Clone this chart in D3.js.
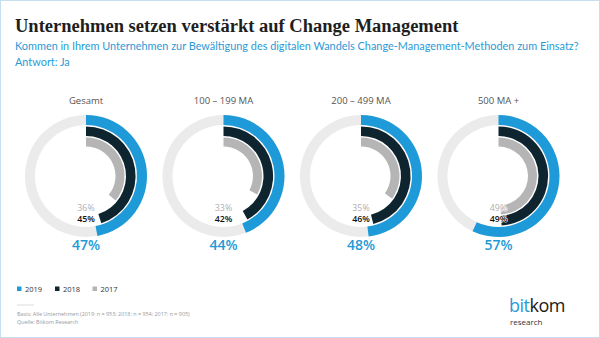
<!DOCTYPE html>
<html>
<head>
<meta charset="utf-8">
<script src="https://cdn.jsdelivr.net/npm/d3@7"></script>
<style>
  html, body { margin: 0; padding: 0; background: #fff; }
  svg { display: block; }
</style>
</head>
<body>
<svg id="chart"></svg>
<script>
// Werte aus der Grafik (Antwort: Ja, in %)
const categories = ["Gesamt", "100 – 199 MA", "200 – 499 MA", "500 MA +"];
const years = ["2019", "2018", "2017"];
const values2019 = [47, 44, 48, 57];
const values2018 = [45, 42, 46, 49];
const values2017 = [36, 33, 35, 49];

const width = 600;
const height = 338;

const blue = "#1f9ad8";
const dark = "#0e2530";
const grey = "#b5b5b5";
const track = "#ebebeb";

const svg = d3.select("#chart")
    .attr("width", width)
    .attr("height", height);

// Rahmen
svg.append("rect")
    .attr("x", 0.5).attr("y", 0.5)
    .attr("width", width - 1).attr("height", height - 1)
    .attr("fill", "#fff")
    .attr("stroke", "#c6dff0");

// Titel
svg.append("text")
    .attr("x", 15).attr("y", 32)
    .attr("font-family", "'Liberation Serif', serif")
    .attr("font-size", 18.5)
    .attr("font-weight", "bold")
    .attr("fill", "#1e1e1e")
    .text("Unternehmen setzen verstärkt auf Change Management");

const sub = svg.append("text")
    .attr("font-family", "Lato, sans-serif")
    .attr("font-size", 10.9)
    .attr("fill", "#2a9ad6");
sub.append("tspan").attr("x", 15).attr("y", 50)
    .text("Kommen in Ihrem Unternehmen zur Bewältigung des digitalen Wandels Change-Management-Methoden zum Einsatz?");
sub.append("tspan").attr("x", 15).attr("y", 66)
    .text("Antwort: Ja");

// Skalen
const x = d3.scaleBand()
    .domain(categories)
    .range([17.25, 567.25]);

const angle = d3.scaleLinear()
    .domain([0, 100])
    .range([0, 2 * Math.PI]);

const cy = 176;

const rings = [
    {year: "2019", values: values2019, inner: 51, outer: 61, color: blue},
    {year: "2018", values: values2018, inner: 40, outer: 49.6, color: dark},
    {year: "2017", values: values2017, inner: 29.5, outer: 38.5, color: grey}
];

const arc = d3.arc();

const groups = svg.selectAll("g.donut")
    .data(categories)
    .enter().append("g")
    .attr("class", "donut")
    .attr("transform", d => `translate(${x(d) + x.bandwidth() / 2},${cy})`);

groups.append("text")
    .attr("y", -72)
    .attr("text-anchor", "middle")
    .attr("font-family", "'Open Sans', sans-serif")
    .attr("font-size", 9.5)
    .attr("fill", "#555")
    .text(d => d);

// Hintergrundring
groups.append("path")
    .attr("d", arc({innerRadius: 51, outerRadius: 61, startAngle: 0, endAngle: 2 * Math.PI}))
    .attr("fill", track);

rings.forEach(r => {
    groups.append("path")
        .attr("d", (d, i) => arc({
            innerRadius: r.inner,
            outerRadius: r.outer,
            startAngle: 0,
            endAngle: angle(r.values[i])
        }))
        .attr("fill", r.color);
});

groups.append("text")
    .attr("y", 34.5)
    .attr("text-anchor", "middle")
    .attr("font-family", "'Open Sans', sans-serif")
    .attr("font-size", 8.8)
    .attr("fill", "#b0b0b0")
    .attr("stroke", "#fff")
    .attr("stroke-width", 1.2)
    .attr("paint-order", "stroke")
    .text((d, i) => values2017[i] + "%");

groups.append("text")
    .attr("y", 46)
    .attr("text-anchor", "middle")
    .attr("font-family", "'Open Sans', sans-serif")
    .attr("font-size", 8.8)
    .attr("font-weight", "600")
    .attr("fill", "#111")
    .attr("stroke", "#fff")
    .attr("stroke-width", 1.2)
    .attr("paint-order", "stroke")
    .text((d, i) => values2018[i] + "%");

groups.append("text")
    .attr("y", 74)
    .attr("text-anchor", "middle")
    .attr("font-family", "'Open Sans', sans-serif")
    .attr("font-size", 14)
    .attr("font-weight", "600")
    .attr("fill", blue)
    .text((d, i) => values2019[i] + "%");

// Legende
const legendColors = [blue, dark, grey];
const legendX = [17, 55, 92.5];
const legend = svg.selectAll("g.legend")
    .data(years)
    .enter().append("g")
    .attr("class", "legend")
    .attr("transform", (d, i) => `translate(${legendX[i]},289)`);

legend.append("rect")
    .attr("x", 0).attr("y", -2.5)
    .attr("width", 4.5).attr("height", 4.5)
    .attr("fill", (d, i) => legendColors[i]);

legend.append("text")
    .attr("x", 8).attr("y", 3)
    .attr("font-family", "'Open Sans', sans-serif")
    .attr("font-size", 7.5)
    .attr("fill", "#333")
    .text(d => d);

// Fußnote
svg.append("line")
    .attr("x1", 17).attr("x2", 34)
    .attr("y1", 305).attr("y2", 305)
    .attr("stroke", "#ddd");

const foot = svg.append("text")
    .attr("font-family", "'Open Sans', sans-serif")
    .attr("font-size", 5.4)
    .attr("fill", "#999");
foot.append("tspan").attr("x", 17).attr("y", 316)
    .text("Basis: Alle Unternehmen (2019: n = 953; 2018: n = 954; 2017: n = 905)");
foot.append("tspan").attr("x", 17).attr("y", 324)
    .text("Quelle: Bitkom Research");

// Logo
const logo = svg.append("text")
    .attr("x", 509).attr("y", 312)
    .attr("font-family", "'Open Sans', sans-serif")
    .attr("font-size", 18)
    .attr("letter-spacing", -0.5);
logo.append("tspan").attr("fill", "#2a9ad6").text("bit");
logo.append("tspan").attr("fill", "#1a1a1a").text("kom");

svg.append("text")
    .attr("x", 510).attr("y", 325)
    .attr("font-family", "'Open Sans', sans-serif")
    .attr("font-size", 8)
    .attr("fill", "#333")
    .text("research");
</script>
</body>
</html>
